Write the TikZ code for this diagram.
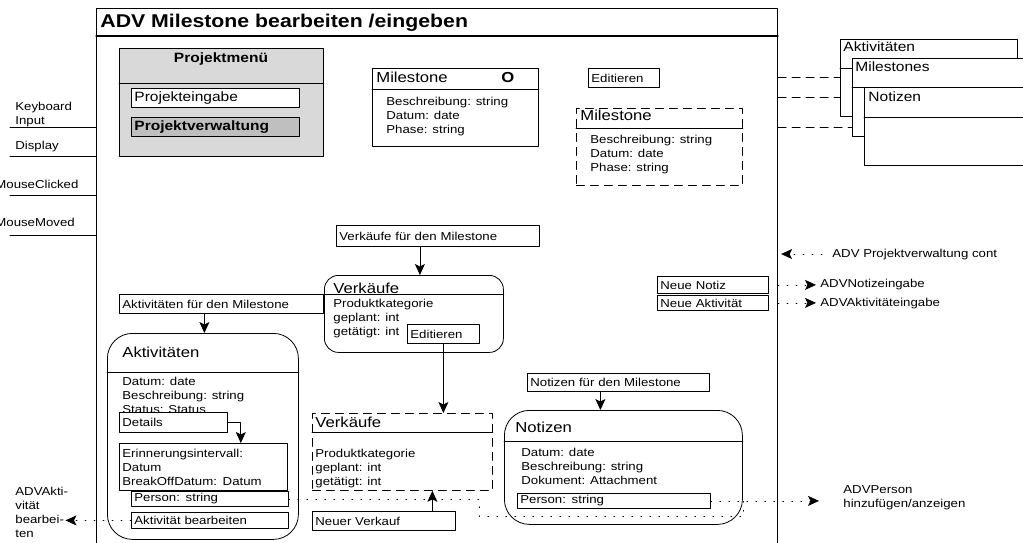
\documentclass[tikz,border=0pt]{standalone}
\usepackage{fontspec}
\setmainfont{Liberation Sans}[FakeStretch=1.15]
\usetikzlibrary{arrows.meta}
\newcommand\attrfont{\fontsize{11.5}{14}\selectfont}
\newcommand\menufont{\fontsize{13.5}{16}\selectfont}
\newcommand\headfont{\fontsize{14.5}{16}\selectfont}
\newcommand\ttlfont{\fontsize{18.5}{20}\selectfont\bfseries}
\tikzset{
	box/.style={draw, rectangle, anchor=north west, inner sep=0pt},
	lbl/.style 2 args={draw, fill=white, rectangle, anchor=north west, inner xsep=3pt, inner ysep=0pt, align=left, text width=#1, minimum height=#2, font=\attrfont},
	attr/.style={anchor=base west, inner sep=0pt, font=\attrfont},
	head/.style={anchor=base west, inner sep=0pt, font=\headfont},
	dashline/.style={dash pattern=on 8pt off 6pt},
	dotline/.style={dash pattern=on 0.9pt off 8.1pt},
}
\begin{document}
\begin{tikzpicture}[line cap=round,line join=round,>={Stealth[length=11pt,width=10pt,inset=2.5pt]},x=1pt,y=-1pt,line width=0.8pt]
	\useasboundingbox (0,0) rectangle (1023,543);
	\clip (0,0) rectangle (1023,543);
	% frame
	\node[box, line width=1.1pt, minimum width=681pt, minimum height=560pt] (frame) at (96,8) {};
	\draw[line width=1.1pt] (frame.west |- 0,36) -- (frame.east |- 0,36);
	\node[anchor=base west, inner sep=0pt, font=\ttlfont] (title) at (100,28) {ADV Milestone bearbeiten /eingeben};
	% inputs
	\node[anchor=north west, inner sep=0pt, align=left, font=\attrfont] (kbd) at (15,101.6) {Keyboard\\Input};
	\node[attr] (disp) at (15,149) {Display};
	\node[attr] (mclick) at (-5,188) {MouseClicked};
	\node[attr] (mmove) at (-5,226) {MouseMoved};
	\foreach \y in {127,156,195,235}
		\draw (10,\y) -- (frame.west |- 0,\y);
	% projektmenue
	\node[box, fill=gray!30, minimum width=204pt, minimum height=108pt] (menu) at (119,48) {};
	\draw (menu.west |- 0,83) -- (menu.east |- 0,83);
	\node[anchor=base, inner sep=0pt, font=\menufont\bfseries] (menutitle) at (221,63) {Projektmenü};
	\node[lbl={162pt}{19pt}, font=\menufont] (peing) at (131,88) {Projekteingabe};
	\node[lbl={162pt}{19pt}, fill=gray!50, font=\menufont\bfseries] (pverw) at (131,117) {Projektverwaltung};
	% milestone
	\node[box, minimum width=166pt, minimum height=78pt] (ms) at (372,68) {};
	\draw (ms.west |- 0,89) -- (ms.east |- 0,89);
	\node[head] (mshead) at (376,83) {Milestone};
	\node[head, font=\headfont\bfseries] (mso) at (501,83) {O};
	\foreach \t [count=\i] in {Beschreibung: string, Datum: date, Phase: string}
		\node[attr] (msa\i) at (386,92.5+13.5*\i) {\t};
	\node[lbl={65pt}{19pt}] (edit) at (588,68) {Editieren};
	\node[box, dashline, minimum width=166pt, minimum height=77pt] (msd) at (576,108) {};
	\draw (msd.west |- 0,128) -- (msd.east |- 0,128);
	\node[head] (msdhead) at (580,121) {Milestone};
	\foreach \t [count=\i] in {Beschreibung: string, Datum: date, Phase: string}
		\node[attr] (msda\i) at (590,129+14*\i) {\t};
	% windows
	\node[box, fill=white, minimum width=177pt, minimum height=77pt] (wakt) at (840,39) {};
	\draw (wakt.west |- 0,68) -- (wakt.east |- 0,68);
	\node[head, font=\menufont] (waktt) at (843,52) {Aktivitäten};
	\node[box, fill=white, minimum width=200pt, minimum height=78pt] (wms) at (852,58) {};
	\draw (wms.west |- 0,87) -- (wms.east |- 0,87);
	\node[head, font=\menufont] (wmst) at (855,72) {Milestones};
	\node[box, fill=white, minimum width=200pt, minimum height=78pt] (wnot) at (864,87) {};
	\draw (wnot.west |- 0,117) -- (wnot.east |- 0,117);
	\node[head, font=\menufont] (wnott) at (868,102) {Notizen};
	\draw[dashline] (frame.east |- 0,77) -- (wakt.west |- 0,77);
	\draw[dashline] (frame.east |- 0,97) -- (wakt.west |- 0,97);
	\draw[dashline] (frame.east |- 0,127) -- (wms.west |- 0,127);
	% right side
	\node[attr] (pvcont) at (832,257) {ADV Projektverwaltung cont};
	\draw[dotline,->,shorten >=3pt] ([xshift=-10pt]pvcont.west) -- (pvcont.west -| frame.east);
	\node[lbl={105pt}{17pt}] (nnotiz) at (657,276) {Neue Notiz};
	\node[lbl={105pt}{15pt}] (nakt) at (657,295) {Neue Aktivität};
	\node[attr] (advnot) at (820,287) {ADVNotizeingabe};
	\node[attr] (advakteing) at (820,306) {ADVAktivitäteingabe};
	\draw[dotline,->,shorten >=4pt] (nnotiz.east -| frame.east) -- (advnot.west |- nnotiz.east);
	\draw[dotline,->,shorten >=4pt] (nakt.east -| frame.east) -- (advakteing.west |- nakt.east);
	% verkaeufe
	\node[lbl={197pt}{21pt}] (vfm) at (336,225) {Verkäufe für den Milestone};
	\node[box, rounded corners=14pt, minimum width=179pt, minimum height=77pt] (verk) at (324,275) {};
	\draw (verk.west |- 0,294) -- (verk.east |- 0,294);
	\node[head] (verkhead) at (333,293) {Verkäufe};
	\foreach \t [count=\i] in {Produktkategorie, geplant: int, getätigt: int}
		\node[attr] (verka\i) at (333,293+14*\i) {\t};
	\node[lbl={66pt}{19pt}] (edit2) at (407,324) {Editieren};
	\node[box, dashline, minimum width=180pt, minimum height=77pt] (vkd) at (312,413) {};
	\draw (vkd.west |- 0,432) -- (vkd.east |- 0,432);
	\node[head] (vkdhead) at (315,427) {Verkäufe};
	\foreach \t [count=\i] in {Produktkategorie, geplant: int, getätigt: int}
		\node[attr] (vkda\i) at (315,443+14*\i) {\t};
	\node[lbl={137pt}{19pt}] (nv) at (312,511) {Neuer Verkauf};
	\draw[->] ([xshift=-18pt]vfm.south) -- ([xshift=-18pt]vfm.south |- verk.north);
	\draw[->] (edit2.south) -- (edit2.south |- vkd.north);
	\draw[->] ([xshift=48.5pt]nv.north) -- ([xshift=48.5pt]nv.north |- vkd.south);
	% aktivitaeten
	\node[lbl={198pt}{19pt}] (afm) at (119,294) {Aktivitäten für den Milestone};
	\node[box, rounded corners=25pt, minimum width=191pt, minimum height=206pt] (akt) at (107,333) {};
	\draw (akt.west |- 0,372) -- (akt.east |- 0,372);
	\node[head] (akthead) at (122,357) {Aktivitäten};
	\foreach \t [count=\i] in {Datum: date, Beschreibung: string, Status: Status}
		\node[attr] (akta\i) at (122,371+14*\i) {\t};
	\node[lbl={102pt}{20pt}] (det) at (119,412) {Details};
	\node[lbl={162pt}{47pt}] (eri) at (119,443) {Erinnerungsintervall:\\Datum\\BreakOffDatum: Datum};
	\node[lbl={151pt}{15pt}] (pera) at (131,491) {Person: string};
	\node[lbl={151pt}{16pt}] (abear) at (131,512) {Aktivität bearbeiten};
	\coordinate (detbend) at ([xshift=13pt]det.east);
	\draw[->] ([xshift=-17pt]afm.south) -- ([xshift=-17pt]afm.south |- akt.north);
	\draw[->] (det.east) -| (detbend |- eri.north);
	\node[anchor=north west, inner sep=0pt, align=left, font=\attrfont] (advakt) at (15,487) {ADVAkti-\\vität\\bearbei-\\ten};
	\draw[dotline,->,shorten >=-3pt] (abear.west) -- (abear.west -| advakt.east);
	% notizen
	\node[lbl={176pt}{18pt}] (nfm) at (527,373) {Notizen für den Milestone};
	\node[box, rounded corners=25pt, minimum width=238pt, minimum height=114pt] (notz) at (504,410) {};
	\draw (notz.west |- 0,441) -- (notz.east |- 0,441);
	\node[head] (notzhead) at (515,432) {Notizen};
	\foreach \t [count=\i] in {Datum: date, Beschreibung: string, Dokument: Attachment}
		\node[attr] (notza\i) at (521,442+14*\i) {\t};
	\node[lbl={187pt}{15pt}] (pern) at (517,493) {Person: string};
	\draw[->] ([xshift=-18pt]nfm.south) -- ([xshift=-18pt]nfm.south |- notz.north);
	% person
	\node[anchor=north west, inner sep=0pt, align=left, font=\attrfont] (advp) at (843,485) {ADVPerson\\hinzufügen/anzeigen};
	\coordinate (pjoin) at ([xshift=33pt]pern.east);
	\coordinate (pdown) at (479,516);
	\draw[dotline,->] (pern.east) -- ([xshift=-24pt]advp.west |- pern.east);
	\draw[dotline] (pera.east) -| (pdown) -| (pjoin);
\end{tikzpicture}
\end{document}
